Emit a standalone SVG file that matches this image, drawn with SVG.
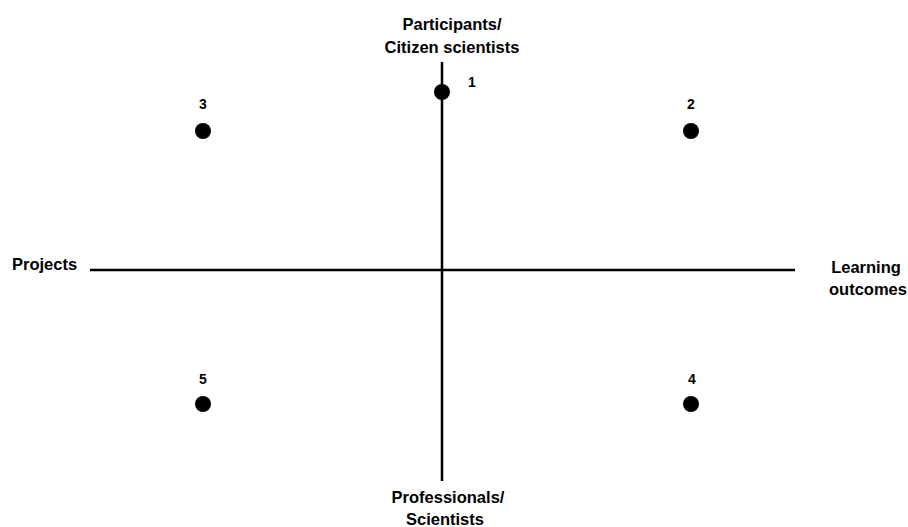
<svg xmlns="http://www.w3.org/2000/svg" width="908" height="527" viewBox="0 0 908 527">
<style>
.lbl{font-family:"Liberation Sans",Arial,sans-serif;font-weight:bold;font-size:16.5px;fill:#000}
.num{font-family:"Liberation Sans",Arial,sans-serif;font-weight:bold;font-size:14px;fill:#000;text-anchor:middle}
.axis{stroke:#000;stroke-width:2.5;fill:none}
.dot{fill:#000}
</style>
<rect width="908" height="527" fill="#fff"/>
<g id="connectors">
<line class="axis" x1="442" y1="62" x2="442" y2="481"/>
<line class="axis" x1="90" y1="270" x2="795" y2="270"/>
</g>
<g id="axis-top"><text class="lbl" x="452" y="30" text-anchor="middle">Participants/</text><text class="lbl" x="452" y="53" text-anchor="middle">Citizen scientists</text></g>
<g id="axis-bottom"><text class="lbl" x="448" y="503" text-anchor="middle">Professionals/</text><text class="lbl" x="445" y="525" text-anchor="middle">Scientists</text></g>
<g id="axis-left"><text class="lbl" x="12" y="270">Projects</text></g>
<g id="axis-right"><text class="lbl" x="866" y="273" text-anchor="middle">Learning</text><text class="lbl" x="868" y="295" text-anchor="middle">outcomes</text></g>
<g id="p1"><circle class="dot" cx="442" cy="92" r="8"/><text class="num" x="472" y="87">1</text></g>
<g id="p2"><circle class="dot" cx="691" cy="131" r="8"/><text class="num" x="691" y="109">2</text></g>
<g id="p3"><circle class="dot" cx="203" cy="131" r="8"/><text class="num" x="203" y="109">3</text></g>
<g id="p4"><circle class="dot" cx="691" cy="404" r="8"/><text class="num" x="692" y="384">4</text></g>
<g id="p5"><circle class="dot" cx="203" cy="404" r="8"/><text class="num" x="203" y="384">5</text></g>
</svg>
